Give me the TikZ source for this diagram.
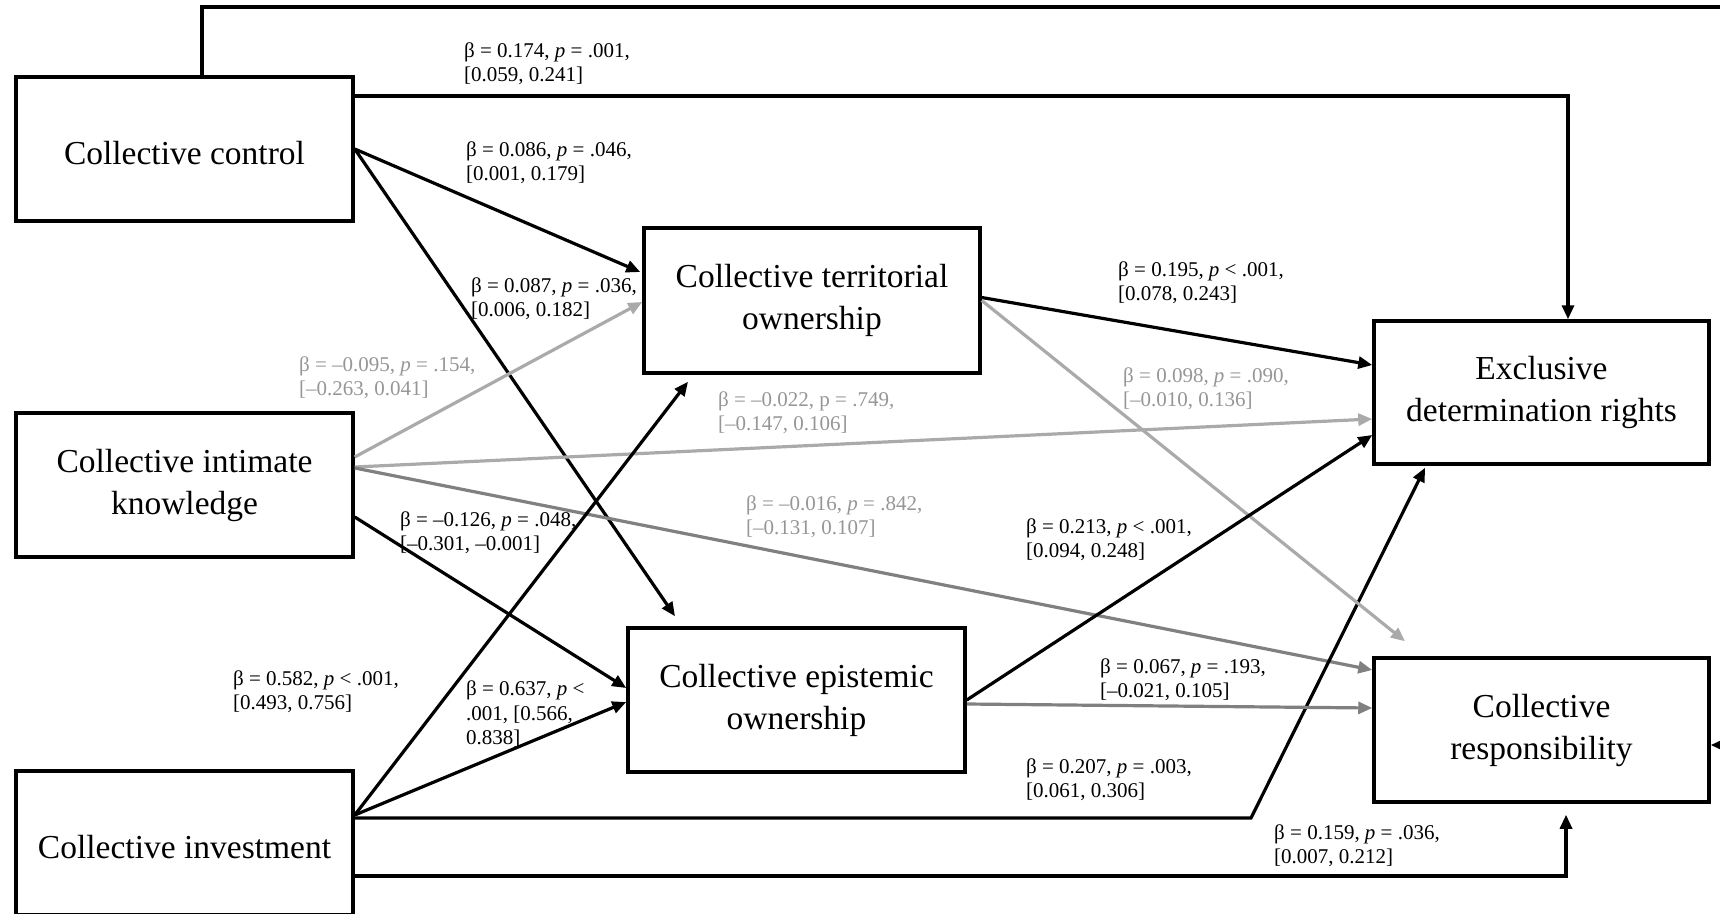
\documentclass[tikz,border=0pt]{standalone}
\usepackage{fontspec}
\setmainfont{Liberation Serif}
\usetikzlibrary{arrows.meta,calc}
\definecolor{lgray}{RGB}{170,170,170}
\definecolor{mgray}{RGB}{128,128,128}
\definecolor{lbl}{RGB}{150,150,150}
\begin{document}
\begin{tikzpicture}[x=1pt,y=-1pt,
  box/.style={draw, line width=3.5pt, minimum width=337pt, minimum height=144pt, align=center, inner sep=0pt, font=\fontsize{33.5}{42}\selectfont, execute at begin node={\rule{0pt}{32pt}}},
  lab/.style={anchor=west, align=left, inner sep=0pt, font=\fontsize{21}{24}\selectfont},
  glab/.style={lab, text=lbl},
  arr/.style={line width=3.2pt, -{Triangle[length=14pt,width=12pt]}},
  garr/.style={arr, draw=lgray},
  marr/.style={arr, draw=mgray},
]
\useasboundingbox (0,0) rectangle (1720,913);
\clip (0,0) rectangle (1720,913);

% boxes
\node[box] (ctrl) at (184.5,149) {Collective control};
\node[box] (intim) at (184.5,485) {Collective intimate\\knowledge};
\node[box] (invest) at (184.5,843) {Collective investment};
\node[box, minimum width=336pt, minimum height=145pt] (terr) at (812,300.5) {Collective territorial\\ownership};
\node[box] (epis) at (796.5,700) {Collective epistemic\\ownership};
\node[box, minimum width=335pt, minimum height=143pt] (excl) at (1541.5,392.5) {Exclusive\\determination rights};
\node[box, minimum width=335pt] (resp) at (1541.5,730) {Collective\\responsibility};

% bend points
\coordinate (topR) at (1730,7);
\coordinate (kink) at (1251,818);

% connectors
\draw[arr] ($(ctrl.north)+(17.5,0)$) |- (topR) |- ($(resp.east)+(0,15)$);
\draw[arr] ($(ctrl.east)+(0,-53)$) -| ($(excl.north)+(26.5,0)$);
\draw[arr] (ctrl.east) -- ($(terr.west)+(-2,-28.5)$);
\draw[arr] (ctrl.east) -- ($(epis.north)+(-121.5,-10)$);

\draw[garr] ($(intim.east)+(0,-28)$) -- ($(terr.west)+(0,1.5)$);
\draw[garr] ($(intim.east)+(0,-18)$) -- ($(excl.west)+(0,26.5)$);
\draw[marr] ($(intim.east)+(0,-17)$) -- ($(resp.west)+(0,-60)$);
\draw[arr] ($(intim.east)+(0,32)$) -- ($(epis.west)+(0,-12)$);

\draw[arr] ($(invest.east)+(0,-28)$) -- ($(terr.south)+(-124,7)$);
\draw[arr] ($(invest.east)+(0,-28)$) -- ($(epis.west)+(0,2)$);
\draw[arr] ($(invest.east)+(0,-25)$) -- (kink) -- ($(excl.south)+(-116.5,2)$);
\draw[arr] ($(invest.east)+(0,33)$) -| ($(resp.south)+(24.5,11)$);

\draw[arr] ($(terr.east)+(0,-3)$) -- ($(excl.west)+(0,-27.5)$);
\draw[garr] (terr.east) -- ($(resp.north)+(-136.5,-15)$);
\draw[arr] (epis.east) -- ($(excl.west)+(0,42.5)$);
\draw[marr] ($(epis.east)+(0,4)$) -- ($(resp.west)+(0,-22)$);

% labels
\node[lab] (l1) at (464,63.5) {β = 0.174, \textit{p} = .001,\\{}[0.059, 0.241]};
\node[lab] (l2) at (466,162.5) {β = 0.086, \textit{p} = .046,\\{}[0.001, 0.179]};
\node[lab] (l3) at (471,299) {β = 0.087, \textit{p} = .036,\\{}[0.006, 0.182]};
\node[glab] (l4) at (299,377.5) {β = –0.095, \textit{p} = .154,\\{}[–0.263, 0.041]};
\node[glab] (l5) at (718,412.5) {β = –0.022, p = .749,\\{}[–0.147, 0.106]};
\node[glab] (l6) at (746,516.5) {β = –0.016, \textit{p} = .842,\\{}[–0.131, 0.107]};
\node[lab] (l7) at (400,532.5) {β = –0.126, \textit{p} = .048,\\{}[–0.301, –0.001]};
\node[lab] (l8) at (233,692) {β = 0.582, \textit{p} < .001,\\{}[0.493, 0.756]};
\node[lab] (l9) at (466,714) {β = 0.637, \textit{p} <\\.001, [0.566,\\0.838]};
\node[lab] (l10) at (1118,282.5) {β = 0.195, \textit{p} < .001,\\{}[0.078, 0.243]};
\node[glab] (l11) at (1123,388.5) {β = 0.098, \textit{p} = .090,\\{}[–0.010, 0.136]};
\node[lab] (l12) at (1026,540) {β = 0.213, \textit{p} < .001,\\{}[0.094, 0.248]};
\node[lab] (l13) at (1100,680) {β = 0.067, \textit{p} = .193,\\{}[–0.021, 0.105]};
\node[lab] (l14) at (1026,780) {β = 0.207, \textit{p} = .003,\\{}[0.061, 0.306]};
\node[lab] (l15) at (1274,845.5) {β = 0.159, \textit{p} = .036,\\{}[0.007, 0.212]};
\end{tikzpicture}
\end{document}
